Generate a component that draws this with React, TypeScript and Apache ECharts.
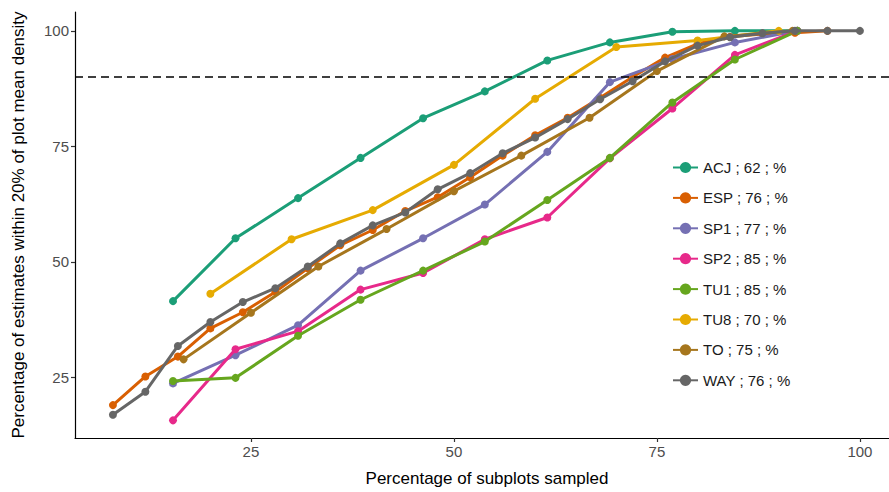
import React, { useEffect, useRef } from "react";
import * as echarts from "echarts";

const seriesNames = ["ACJ ; 62 ; %", "ESP ; 76 ; %", "SP1 ; 77 ; %", "SP2 ; 85 ; %", "TU1 ; 85 ; %", "TU8 ; 70 ; %", "TO ; 75 ; %", "WAY ; 76 ; %"];
const colors = ["#1B9E77", "#D95F02", "#7570B3", "#E7298A", "#66A61E", "#E6AB02", "#A6761D", "#666666"];

const acjX = [15.4, 23.1, 30.8, 38.5, 46.2, 53.8, 61.5, 69.2, 76.9, 84.6, 92.3];
const acjY = [41.5, 55.1, 63.8, 72.5, 81.1, 86.9, 93.6, 97.5, 99.8, 100, 100];

const espX = [8, 12, 16, 20, 24, 28, 32, 36, 40, 44, 48, 52, 56, 60, 64, 68, 72, 76, 80, 84, 88, 92, 96];
const espY = [19.0, 25.2, 29.5, 35.6, 39.1, 43.5, 48.6, 53.6, 56.9, 61.0, 64.0, 68.3, 73.0, 77.4, 81.2, 85.5, 90.0, 94.2, 97.2, 98.7, 99.3, 99.6, 100];

const sp1X = [15.4, 23.1, 30.8, 38.5, 46.2, 53.8, 61.5, 69.2, 76.9, 84.6, 92.3];
const sp1Y = [23.7, 29.8, 36.3, 48.1, 55.1, 62.4, 73.8, 88.9, 93.9, 97.5, 100];

const sp2X = [15.4, 23.1, 30.8, 38.5, 46.2, 53.8, 61.5, 69.2, 76.9, 84.6, 92.3];
const sp2Y = [15.7, 31.1, 35.0, 44.0, 47.6, 54.9, 59.6, 72.4, 83.2, 94.8, 100];

const tu1X = [15.4, 23.1, 30.8, 38.5, 46.2, 53.8, 61.5, 69.2, 76.9, 84.6, 92.3];
const tu1Y = [24.2, 24.9, 34.0, 41.8, 48.1, 54.4, 63.4, 72.5, 84.5, 93.8, 100];

const tu8X = [20, 30, 40, 50, 60, 70, 80, 90];
const tu8Y = [43.1, 54.9, 61.2, 71.0, 85.3, 96.5, 97.9, 100];

const toX = [16.7, 25, 33.3, 41.7, 50, 58.3, 66.7, 75, 83.3, 91.7];
const toY = [28.9, 39.0, 49.0, 57.1, 65.3, 73.0, 81.2, 91.3, 98.8, 100];

const wayX = [8, 12, 16, 20, 24, 28, 32, 36, 40, 44, 48, 52, 56, 60, 64, 68, 72, 76, 80, 84, 88, 92, 96, 100];
const wayY = [16.9, 21.9, 31.8, 37.0, 41.3, 44.3, 49.0, 54.0, 57.9, 60.7, 65.7, 69.2, 73.5, 76.9, 80.9, 85.2, 89.1, 93.4, 96.8, 98.6, 99.5, 100, 100, 100];

const xs = [acjX, espX, sp1X, sp2X, tu1X, tu8X, toX, wayX];
const ys = [acjY, espY, sp1Y, sp2Y, tu1Y, tu8Y, toY, wayY];

const yTicks = [25, 50, 75, 100];
const xTicks = [25, 50, 75, 100];
const threshold = 90;

const FONT = "'Liberation Sans', Arial, sans-serif";

export default function App() {
  const ref = useRef<HTMLDivElement>(null);
  useEffect(() => {
    if (!ref.current) return;
    const chart = echarts.init(ref.current, null, { renderer: "svg" });
    const series: any[] = seriesNames.map((name, i) => ({
      name,
      type: "line",
      data: xs[i].map((x, j) => [x, ys[i][j]]),
      symbol: "circle",
      symbolSize: 8,
      showSymbol: true,
      lineStyle: { color: colors[i], width: 3 },
      itemStyle: { color: colors[i] },
      emphasis: { disabled: true },
      z: 2 + i,
    }));
    series[0].markLine = {
      silent: true,
      symbol: "none",
      label: { show: false },
      lineStyle: { color: "#000", type: [8, 5], width: 1.5 },
      data: [{ yAxis: threshold }],
      z: 20,
    };
    chart.setOption({
      animation: false,
      textStyle: { fontFamily: FONT },
      grid: { left: 75, right: 0, top: 12, bottom: 51, containLabel: false },
      xAxis: {
        type: "value",
        min: 3.33,
        max: 103.58,
        name: "Percentage of subplots sampled",
        nameLocation: "middle",
        nameGap: 32,
        nameTextStyle: { color: "#000", fontSize: 17, fontFamily: FONT, padding: [0, 0, 0, 10] },
        splitLine: { show: false },
        axisLine: { lineStyle: { color: "#000", width: 1.2 } },
        axisTick: { customValues: xTicks, length: 4, lineStyle: { color: "#333", width: 1.2 } },
        axisLabel: { customValues: xTicks, color: "#4D4D4D", fontSize: 15, margin: 6, fontFamily: FONT },
      },
      yAxis: {
        type: "value",
        min: 11.88,
        max: 104.08,
        name: "Percentage of estimates within 20% of plot mean density",
        nameLocation: "middle",
        nameGap: 48,
        nameTextStyle: { color: "#000", fontSize: 17, fontFamily: FONT },
        splitLine: { show: false },
        axisLine: { show: true, lineStyle: { color: "#000", width: 1.2 } },
        axisTick: { show: true, customValues: yTicks, length: 4, lineStyle: { color: "#333", width: 1.2 } },
        axisLabel: { customValues: yTicks, color: "#4D4D4D", fontSize: 15, margin: 6, fontFamily: FONT },
      },
      legend: {
        orient: "vertical",
        left: 667,
        top: 155,
        itemWidth: 25,
        itemHeight: 14,
        itemGap: 15.4,
        textStyle: { color: "#1A1A1A", fontSize: 15, fontFamily: FONT },
        data: seriesNames,
        selectedMode: false,
      },
      series,
    });
    return () => chart.dispose();
  }, []);
  return <div ref={ref} style={{ width: 889, height: 492, position: "absolute", left: 0, top: 0 }} />;
}
